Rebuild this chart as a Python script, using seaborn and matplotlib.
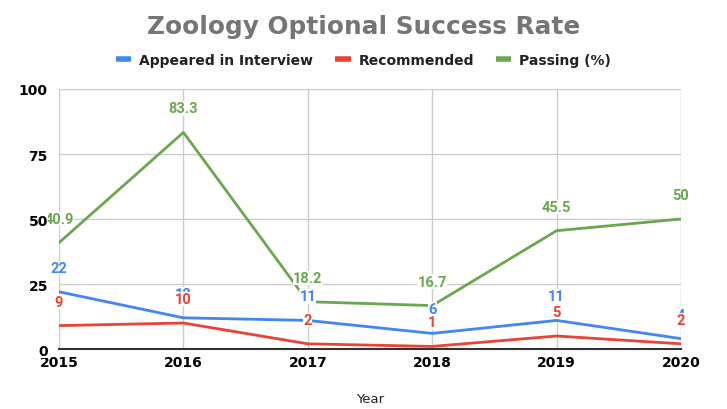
import matplotlib
matplotlib.use("Agg")
import matplotlib.pyplot as plt
import seaborn as sns
import pandas as pd
from matplotlib.lines import Line2D

years = [2015, 2016, 2017, 2018, 2019, 2020]
appeared = [22, 12, 11, 6, 11, 4]
recommended = [9, 10, 2, 1, 5, 2]
passing = [40.9, 83.3, 18.2, 16.7, 45.5, 50]
series_names = ["Appeared in Interview", "Recommended", "Passing (%)"]
colors = ["#4285F4", "#EA4335", "#6AA84F"]
label_texts = [
    [str(v) for v in appeared],
    [str(v) for v in recommended],
    ["40.9", "83.3", "18.2", "16.7", "45.5", "50"],
]
y_ticks = [0, 25, 50, 75, 100]

rows = []
for name, vals in zip(series_names, [appeared, recommended, passing]):
    for y, v in zip(years, vals):
        rows.append({"Year": y, "Value": v, "Series": name})
df = pd.DataFrame(rows)

sns.set_theme(style="white")
plt.rcParams["font.family"] = ["DejaVu Sans"]

fig = plt.figure(figsize=(7.27, 4.10), dpi=100)
ax = fig.add_axes([0.0812, 0.1463, 0.8555, 0.6342])

sns.lineplot(data=df, x="Year", y="Value", hue="Series", palette=colors,
             hue_order=series_names, linewidth=2, ax=ax, legend=False, zorder=3)

ax.set_xlim(2015, 2020)
ax.set_ylim(0, 100)
ax.set_xticks(years)
ax.set_yticks(y_ticks)
ax.grid(True, axis="x", color="#cccccc", linewidth=1)
ax.grid(False, axis="y")
for yv in y_ticks:
    ax.axhline(yv, color="#cccccc", linewidth=1, zorder=0.5)
ax.set_axisbelow(True)
for s in ["left", "right", "top"]:
    ax.spines[s].set_visible(False)
ax.spines["bottom"].set_color("#333333")
ax.spines["bottom"].set_linewidth(1.5)
ax.spines["bottom"].set_zorder(4)
ax.tick_params(axis="both", length=0, labelsize=10, labelcolor="#000000")
ax.tick_params(axis="x", pad=4)
ax.tick_params(axis="y", pad=8)
for lab in ax.get_xticklabels() + ax.get_yticklabels():
    lab.set_fontweight("bold")
for lab in ax.get_yticklabels():
    lab.set_bbox(dict(facecolor="white", edgecolor="none", pad=0.3))
ax.yaxis.set_zorder(20)
ax.set_xlabel("Year", fontsize=9.5, color="#222222", labelpad=17)
ax.set_ylabel("")

# data labels: passing, appeared, recommended order (red on top)
order = [2, 0, 1]
vals_all = [appeared, recommended, passing]
for z, i in enumerate(order):
    for x, v, t in zip(years, vals_all[i], label_texts[i]):
        ax.annotate(t, (x, v), xytext=(0, 24), textcoords="offset pixels",
                    ha="center", va="center", color=colors[i], fontsize=10.5,
                    fontweight="bold", family="Roboto", zorder=5 + z,
                    bbox=dict(facecolor="white", edgecolor="none", pad=0.15, alpha=1),
                    annotation_clip=False)

fig.text(0.5, 0.935, "Zoology Optional Success Rate", ha="center", va="center",
         fontsize=17.8, fontweight="bold", color="#757575")

handles = [Line2D([0], [0], color=c, linewidth=4, solid_capstyle="butt") for c in colors]
leg = fig.legend(handles, series_names, loc="center", bbox_to_anchor=(0.5, 0.851),
                 ncol=3, frameon=False, handlelength=1.1, handletextpad=0.55,
                 columnspacing=1.6, prop={"weight": "bold", "size": 10})
for t in leg.get_texts():
    t.set_color("#222222")

fig.savefig("out.png", dpi=100)
